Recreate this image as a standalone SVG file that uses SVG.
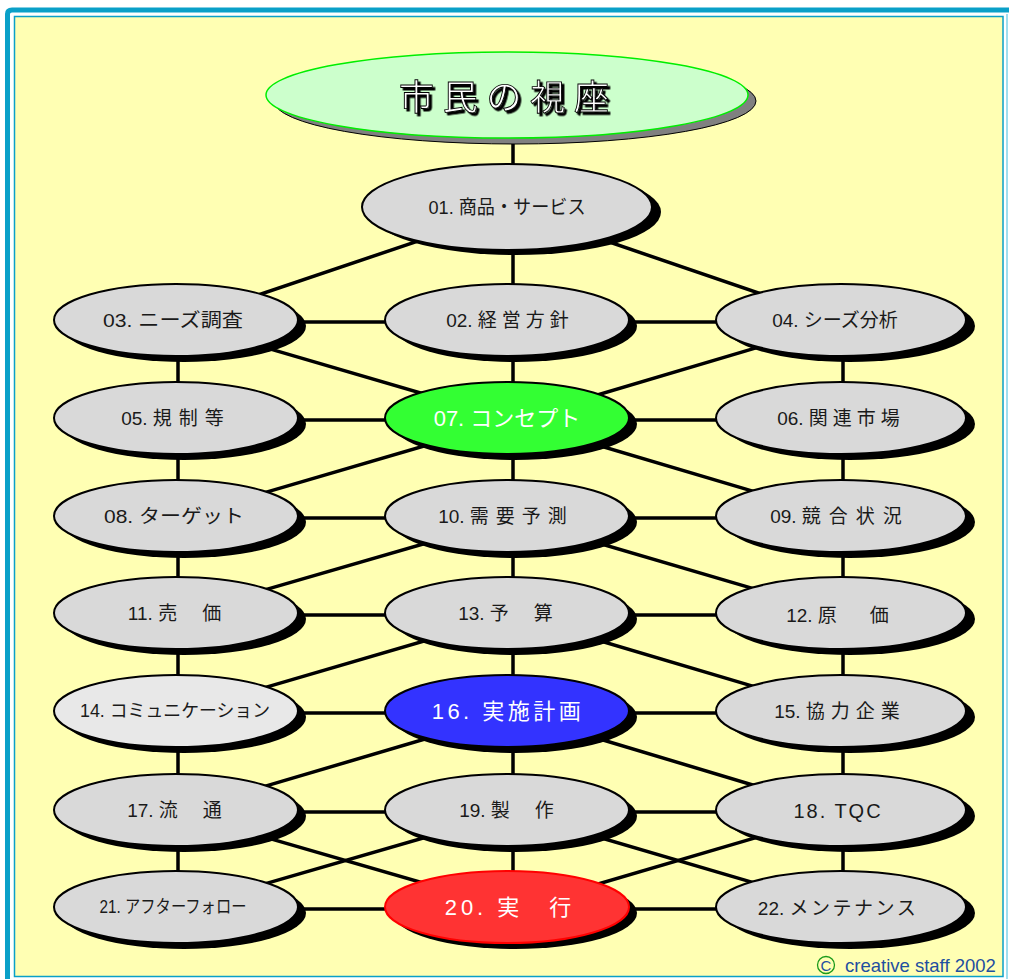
<svg xmlns="http://www.w3.org/2000/svg" width="1009" height="979" viewBox="0 0 1009 979">
<defs>
<filter id="ts" x="-10%" y="-20%" width="130%" height="150%">
<feDropShadow dx="2.5" dy="2.5" stdDeviation="0" flood-color="#000" flood-opacity="1"/>
</filter>
</defs>
<style>
.lbl{font-family:"Liberation Sans","Noto Sans CJK JP",sans-serif;font-size:19px;fill:#1a1a1a;text-anchor:middle}
.wl{font-family:"Liberation Sans","Noto Sans CJK JP",sans-serif;font-size:22px;fill:#ffffff;text-anchor:middle}
.sh{fill:#000}
.nd{fill:#d9d9d9;stroke:#000;stroke-width:2}
.cn line{stroke:#000;stroke-width:3.5}
</style>
<rect x="0" y="0" width="1009" height="979" fill="#ffffff"/>
<path d="M7.5,979 V14 Q7.5,10 12,10 H1009" fill="none" stroke="#0aa0c8" stroke-width="5"/>
<rect x="14.5" y="16.5" width="988.5" height="960" fill="#ffffb3" stroke="#0aa0c8" stroke-width="1.5"/>
<line x1="1007" y1="14" x2="1007" y2="979" stroke="#7fd3ea" stroke-width="1.5"/>
<g id="connectors" class="cn">
<line x1="513" y1="130" x2="513" y2="209"/>
<line x1="513" y1="209" x2="513" y2="909"/>
<line x1="513" y1="209" x2="178" y2="322"/>
<line x1="513" y1="209" x2="843" y2="322"/>
<line x1="178" y1="322" x2="843" y2="322"/>
<line x1="178" y1="420" x2="843" y2="420"/>
<line x1="178" y1="518" x2="843" y2="518"/>
<line x1="178" y1="615" x2="843" y2="615"/>
<line x1="178" y1="713" x2="843" y2="713"/>
<line x1="178" y1="812" x2="843" y2="812"/>
<line x1="178" y1="909" x2="843" y2="909"/>
<line x1="178" y1="322" x2="178" y2="909"/>
<line x1="843" y1="322" x2="843" y2="909"/>
<line x1="178" y1="322" x2="513" y2="420"/>
<line x1="843" y1="322" x2="513" y2="420"/>
<line x1="513" y1="420" x2="178" y2="518"/>
<line x1="513" y1="420" x2="843" y2="518"/>
<line x1="513" y1="518" x2="178" y2="615"/>
<line x1="513" y1="518" x2="843" y2="615"/>
<line x1="513" y1="615" x2="178" y2="713"/>
<line x1="513" y1="615" x2="843" y2="713"/>
<line x1="513" y1="713" x2="178" y2="812"/>
<line x1="513" y1="713" x2="843" y2="812"/>
<line x1="178" y1="812" x2="513" y2="909"/>
<line x1="843" y1="812" x2="513" y2="909"/>
<line x1="513" y1="812" x2="178" y2="909"/>
<line x1="513" y1="812" x2="843" y2="909"/>
</g>
<g id="title">
<ellipse cx="515" cy="101" rx="241" ry="43" fill="#808080" stroke="#000" stroke-width="1"/>
<ellipse cx="507" cy="95" rx="241" ry="43" fill="#ccffcc" stroke="#00ee00" stroke-width="1.5"/>
<text x="504" y="110" textLength="210" filter="url(#ts)" style="font-family:'Noto Sans CJK JP',sans-serif;font-size:35px;text-anchor:middle;fill:#fff;stroke:#000;stroke-width:0.9">市民の視座</text>
</g>
<g id="n01"><ellipse class="sh" cx="516" cy="212" rx="145" ry="43"/><ellipse class="nd" cx="507" cy="207" rx="145" ry="43"/><text class="lbl" x="507" y="214" textLength="157" lengthAdjust="spacingAndGlyphs">01. 商品・サービス</text></g>
<g id="n03"><ellipse class="sh" cx="184" cy="326" rx="122" ry="36"/><ellipse class="nd" cx="176" cy="320" rx="122" ry="36"/><text class="lbl" x="173" y="327" textLength="140" lengthAdjust="spacingAndGlyphs">03. ニーズ調査</text></g>
<g id="n02"><ellipse class="sh" cx="515" cy="326" rx="122" ry="36"/><ellipse class="nd" cx="507" cy="320" rx="122" ry="36"/><text class="lbl" x="510" y="327">02. <tspan letter-spacing="5">経営方針</tspan></text></g>
<g id="n04"><ellipse class="sh" cx="850" cy="326" rx="125" ry="36"/><ellipse class="nd" cx="841" cy="320" rx="125" ry="36"/><text class="lbl" x="835" y="327">04. シーズ分析</text></g>
<g id="n05"><ellipse class="sh" cx="184" cy="424" rx="122" ry="36"/><ellipse class="nd" cx="176" cy="418" rx="122" ry="36"/><text class="lbl" x="176" y="425">05. <tspan letter-spacing="7">規制等</tspan></text></g>
<g id="n07"><ellipse class="sh" cx="515" cy="424" rx="122" ry="36"/><ellipse cx="507" cy="418" rx="122" ry="36" fill="#33ff33" stroke="#000" stroke-width="2"/><text class="wl" x="507" y="426">07. コンセプト</text></g>
<g id="n06"><ellipse class="sh" cx="850" cy="424" rx="125" ry="36"/><ellipse class="nd" cx="841" cy="418" rx="125" ry="36"/><text class="lbl" x="841" y="425">06. <tspan letter-spacing="5">関連市場</tspan></text></g>
<g id="n08"><ellipse class="sh" cx="184" cy="522" rx="122" ry="36"/><ellipse class="nd" cx="176" cy="516" rx="122" ry="36"/><text class="lbl" x="174" y="523" textLength="140" lengthAdjust="spacingAndGlyphs">08. ターゲット</text></g>
<g id="n10"><ellipse class="sh" cx="515" cy="522" rx="122" ry="36"/><ellipse class="nd" cx="507" cy="516" rx="122" ry="36"/><text class="lbl" x="506" y="523">10. <tspan letter-spacing="7">需要予測</tspan></text></g>
<g id="n09"><ellipse class="sh" cx="850" cy="522" rx="125" ry="36"/><ellipse class="nd" cx="841" cy="516" rx="125" ry="36"/><text class="lbl" x="840" y="523">09. <tspan letter-spacing="8">競合状況</tspan></text></g>
<g id="n11"><ellipse class="sh" cx="184" cy="619" rx="122" ry="36"/><ellipse class="nd" cx="176" cy="613" rx="122" ry="36"/><text class="lbl" x="176" y="620">11. <tspan letter-spacing="3">売　価</tspan></text></g>
<g id="n13"><ellipse class="sh" cx="515" cy="619" rx="122" ry="36"/><ellipse class="nd" cx="507" cy="613" rx="122" ry="36"/><text class="lbl" x="507" y="620">13. <tspan letter-spacing="3">予　算</tspan></text></g>
<g id="n12"><ellipse class="sh" cx="850" cy="619" rx="125" ry="36"/><ellipse class="nd" cx="841" cy="613" rx="125" ry="36"/><text class="lbl" x="841" y="622">12. <tspan letter-spacing="7">原　価</tspan></text></g>
<g id="n14"><ellipse class="sh" cx="184" cy="717" rx="122" ry="36"/><ellipse cx="176" cy="711" rx="122" ry="36" fill="#e8e8e8" stroke="#000" stroke-width="2"/><text class="lbl" x="175" y="717" textLength="190" lengthAdjust="spacingAndGlyphs" style="font-size:18px">14. コミュニケーション</text></g>
<g id="n16"><ellipse class="sh" cx="515" cy="717" rx="122" ry="36"/><ellipse cx="507" cy="711" rx="122" ry="36" fill="#3333ff" stroke="#000" stroke-width="2"/><text class="wl" x="508" y="719" letter-spacing="3.5">16. 実施計画</text></g>
<g id="n15"><ellipse class="sh" cx="850" cy="717" rx="125" ry="36"/><ellipse class="nd" cx="841" cy="711" rx="125" ry="36"/><text class="lbl" x="840" y="718">15. <tspan letter-spacing="6">協力企業</tspan></text></g>
<g id="n17"><ellipse class="sh" cx="184" cy="816" rx="122" ry="36"/><ellipse class="nd" cx="176" cy="810" rx="122" ry="36"/><text class="lbl" x="176" y="817">17. <tspan letter-spacing="3">流　通</tspan></text></g>
<g id="n19"><ellipse class="sh" cx="515" cy="816" rx="122" ry="36"/><ellipse class="nd" cx="507" cy="810" rx="122" ry="36"/><text class="lbl" x="508" y="817">19. <tspan letter-spacing="3">製　作</tspan></text></g>
<g id="n18"><ellipse class="sh" cx="850" cy="816" rx="125" ry="36"/><ellipse class="nd" cx="841" cy="810" rx="125" ry="36"/><text class="lbl" x="838" y="818" letter-spacing="2" style="font-size:20px">18. TQC</text></g>
<g id="n21"><ellipse class="sh" cx="184" cy="913" rx="122" ry="36"/><ellipse class="nd" cx="176" cy="907" rx="122" ry="36"/><text class="lbl" x="173" y="913" textLength="147" lengthAdjust="spacingAndGlyphs" style="font-size:18px">21. アフターフォロー</text></g>
<g id="n20"><ellipse class="sh" cx="515" cy="913" rx="122" ry="36"/><ellipse cx="507" cy="907" rx="122" ry="36" fill="#ff3333" stroke="#ff0000" stroke-width="2"/><text class="wl" x="510" y="915" letter-spacing="4">20. 実　行</text></g>
<g id="n22"><ellipse class="sh" cx="850" cy="913" rx="125" ry="36"/><ellipse class="nd" cx="841" cy="907" rx="125" ry="36"/><text class="lbl" x="838" y="915">22. <tspan letter-spacing="2.5">メンテナンス</tspan></text></g>
<g id="copyright">
<circle cx="826" cy="965" r="8.5" fill="none" stroke="#1a9a1a" stroke-width="1.3"/>
<text x="826" y="971" style="font-family:'Liberation Sans',sans-serif;font-size:15px;fill:#1f4fa0;text-anchor:middle">C</text>
<text x="845" y="972" style="font-family:'Liberation Sans',sans-serif;font-size:18.5px;fill:#1f4fa0">creative staff 2002</text>
</g>
</svg>
